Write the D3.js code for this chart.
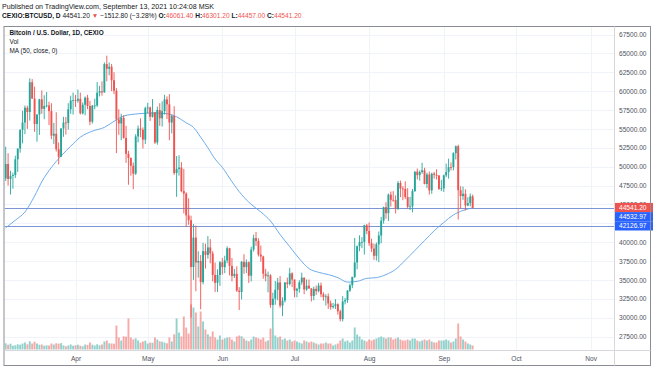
<!DOCTYPE html>
<html>
<head>
<meta charset="utf-8">
<script src="https://cdn.jsdelivr.net/npm/d3@7"></script>
<style>
  body { margin: 0; background: #fff; }
  svg { display: block; font-family: "Liberation Sans", Arial, sans-serif; }
</style>
</head>
<body>
<script>
// daily candles, CEXIO:BTCUSD, Mar 3 -> Sep 13 2021
var startDay = "2021-03-03";
var opens = [
  48440,50350,48360,48760,48880,50970,52390,54880,55850,57800,57230,61180,59000,55650,56900,58910,57650,58030,58100,57350,54100,54350,52300,51300,55050,55840,55780,57600,58750,
  58800,58730,58980,57060,58200,59130,58030,55950,58090,58100,59780,59980,59830,63580,62960,63230,61440,60050,56250,55720,56470,53800,51700,51150,50110,49070,54000,55040,54880,53580,
  57750,57830,56600,57200,53200,57500,56400,57350,58900,58250,55850,56700,49150,49700,49880,46760,46430,43540,42900,36700,40600,37300,37500,34700,38800,38300,39300,38500,35650,34600,35650,
  37330,36690,37570,39190,36850,35520,35800,33580,33400,37390,36700,37330,35550,39020,40530,40160,38340,38090,35820,35480,35600,31680,32500,33690,34660,31590,32250,34650,34450,35860,
  35040,33570,33810,34670,35300,33730,34220,33870,32870,33810,33510,34260,33090,32730,32820,31880,31390,31530,31780,30840,29800,32140,32310,33580,34290,35400,37300,39460,40000,40020,42230,
  41470,39860,39150,38190,39720,40880,42850,44630,43830,46290,45600,45570,44430,47830,47100,47040,45970,44690,44740,46760,49340,48870,49290,49510,47700,48960,46860,49070,48900,48810,47050,
  47130,48850,49280,49940,49930,51790,52700,46870,46100,46400,44850,45160,46061.4
];
var highs = [
  52640,51770,49450,49200,51450,52400,54900,57390,58100,58060,61700,61600,60600,56950,58980,60100,59450,59880,58600,58400,55800,57200,53200,55100,56600,56570,58400,59400,59800,
  59500,60200,59800,58500,59300,59500,58700,58150,59000,61200,60700,61300,63800,64700,63800,63600,62500,60400,57600,57000,56800,55400,52100,51200,50550,54300,55450,56400,55200,57950,
  58450,57950,58950,57200,57950,58400,58650,59500,59300,59600,56900,58000,51400,51500,50600,49700,46600,45800,43500,42400,42200,38800,38300,39900,39800,40800,40400,38800,37300,36400,37500,
  37900,38200,39450,39250,37900,36450,36800,34050,37500,38400,37700,37450,39400,41000,41350,40500,39550,38200,36450,36100,35750,33300,34850,35250,35500,32700,34700,35300,36600,36000,
  35050,33950,34950,35950,35300,35050,35050,33900,34100,34250,34600,34650,33350,33100,33200,32250,31950,32450,31900,31050,32850,32600,33650,34500,35400,40550,39550,40900,40650,42300,42400,
  42600,40450,39800,39950,41400,43350,44700,45300,46450,46700,46750,46200,48100,48150,47400,48050,47150,46000,47050,49350,49750,49500,50500,49850,49200,49350,49200,49300,49650,48900,48250,
  48950,50400,51050,50550,51900,52800,52900,47400,47350,47000,45950,46450,46301.2
];
var lows = [
  48100,47500,46300,47070,48500,49300,51850,53080,54300,55000,56100,59000,54600,53300,54200,57000,56280,57850,55500,53650,53000,52000,50300,51300,53950,54250,54900,57000,56900,
  57900,58450,56900,56900,56800,57600,55500,55700,57600,57900,59300,59400,59800,61300,62100,60000,59600,51800,54200,53500,53700,50500,47600,48800,47000,48900,53200,53900,52400,53000,
  57050,56050,56500,53000,52900,55400,55300,56900,56300,53500,54400,48900,46000,48800,46600,43800,42000,42300,30000,35000,33500,35300,31100,34400,36500,37800,37200,34800,33400,33400,34200,
  35700,35900,37200,35600,34800,35250,33400,31000,32400,35800,35900,34600,34800,38750,39500,38100,37400,35150,34800,33350,31300,28800,31700,32300,31300,30200,32000,33900,34250,34050,
  32700,32700,33300,34350,33100,33550,33800,32150,32300,33000,33350,32700,32250,31600,31150,31050,31200,31150,30400,29500,29500,31750,31950,33400,33900,35250,36400,38800,39200,38350,41050,
  39500,38700,37650,37550,37350,39850,42450,43100,42800,44700,45350,43800,44250,45950,45550,45700,44400,44250,43950,46650,48300,48150,49050,47650,47150,46300,46400,48400,48300,46900,46750,
  46650,48600,48400,49500,49500,50950,43000,44450,45600,44200,44750,44750,44457.0
];
var closes = [
  50350,48360,48760,48880,50970,52390,54880,55850,57800,57230,61180,59000,55650,56900,58910,57650,58030,58100,57350,54100,54350,52300,51300,55050,55840,55780,57600,58750,58800,
  58730,58980,57060,58200,59130,58030,55950,58090,58100,59780,59980,59830,63580,62960,63230,61440,60050,56250,55720,56470,53800,51700,51150,50110,49070,54000,55040,54880,53580,57750,
  57830,56600,57200,53200,57500,56400,57350,58900,58250,55850,56700,49150,49700,49880,46760,46430,43540,42900,36700,40600,37300,37500,34700,38800,38300,39300,38500,35650,34600,35650,37330,
  36690,37570,39190,36850,35520,35800,33580,33400,37390,36700,37330,35550,39020,40530,40160,38340,38090,35820,35480,35600,31680,32500,33690,34660,31590,32250,34650,34450,35860,35040,
  33570,33810,34670,35300,33730,34220,33870,32870,33810,33510,34260,33090,32730,32820,31880,31390,31530,31780,30840,29800,32140,32310,33580,34290,35400,37300,39460,40000,40020,42230,41470,
  39860,39150,38190,39720,40880,42850,44630,43830,46290,45600,45570,44430,47830,47100,47040,45970,44690,44740,46760,49340,48870,49290,49510,47700,48960,46860,49070,48900,48810,47050,47130,
  48850,49280,49940,49930,51790,52700,46870,46100,46400,44850,45160,46060,44541.2
];
var volumes = [
  310,240,290,190,210,260,240,300,350,260,410,300,390,300,240,250,190,210,200,300,250,310,290,320,210,160,200,250,190,
  210,240,190,160,250,230,350,240,200,260,210,250,400,450,310,300,290,1200,600,450,660,640,1550,600,500,560,450,340,400,440,
  300,350,340,600,500,410,390,350,310,600,400,760,1550,850,650,1650,1100,800,2250,2100,1850,1150,1900,1400,1000,760,650,900,600,500,700,
  500,560,600,610,500,400,650,700,660,550,450,410,500,650,600,560,500,600,400,450,1050,1150,700,600,650,500,550,450,500,400,
  450,400,350,300,450,400,350,400,350,300,250,300,300,350,300,300,200,250,300,450,550,400,450,350,450,1100,750,650,500,450,400,
  500,450,500,550,600,650,600,550,600,600,500,550,600,500,450,450,500,450,550,550,450,400,450,500,450,500,400,350,350,450,450,
  450,500,450,350,400,550,1300,650,500,400,300,250,200
];

// MA(50, close)
var maDates = ["2021-03-03","2021-03-07","2021-03-11","2021-03-15","2021-03-18","2021-03-22","2021-03-26","2021-03-30",
  "2021-04-03","2021-04-08","2021-04-13","2021-04-17","2021-04-21","2021-04-27","2021-05-03","2021-05-09","2021-05-13",
  "2021-05-17","2021-05-20","2021-05-23","2021-05-26","2021-05-29","2021-06-01","2021-06-05","2021-06-09","2021-06-13",
  "2021-06-17","2021-06-21","2021-06-25","2021-06-29","2021-07-03","2021-07-07","2021-07-11","2021-07-15","2021-07-19",
  "2021-07-23","2021-07-27","2021-07-31","2021-08-04","2021-08-08","2021-08-12","2021-08-16","2021-08-20","2021-08-24",
  "2021-08-28","2021-09-01","2021-09-05","2021-09-09","2021-09-13"];
var maValues = [41900,42900,44000,46100,48000,49900,51400,52700,
  53900,54700,55200,56000,56700,57000,57100,57000,56600,
  55800,55200,53900,52500,51000,49900,48000,46300,45000,
  44000,42800,41000,39400,37800,36500,36000,35700,35300,
  34700,34800,35200,35300,35700,36400,37600,38900,40200,
  41500,42600,43600,44200,44532.97];

var priceTicks = [27500,30000,32500,35000,37500,40000,45000,47500,50000,52500,55000,57500,60000,62500,65000,67500];
var gridTicks = [27500,30000,32500,35000,37500,40000,42500,45000,47500,50000,52500,55000,57500,60000,62500,65000,67500];
var monthTicks = ["2021-04-01","2021-05-01","2021-06-01","2021-07-01","2021-08-01","2021-09-01","2021-10-01","2021-11-01"];
var hLines = [44541.2, 42126.97];
var badges = [
  {label: "44541.20", color: "#ef5350"},
  {label: "44532.97", color: "#2962ff"},
  {label: "42126.97", color: "#2962ff"}
];

var W = 654, H = 366;
var padL = 4.5, padR = 614.5, padT = 26.5, paneBottom = 350.5, frameBottom = 365.5;
var upC = "#26a69a", downC = "#ef5350";
var parse = d3.utcParse("%Y-%m-%d");

var days = d3.utcDay.range(parse(startDay), d3.utcDay.offset(parse(startDay), closes.length));
var data = days.map(function(d, i) {
  return {date: d, o: opens[i], h: highs[i], l: lows[i], c: closes[i], v: volumes[i]};
});

var svg = d3.select("body").append("svg").attr("width", W).attr("height", H);

var x = d3.scaleUtc()
  .domain([parse("2021-04-01"), parse("2021-11-01")])
  .range([75.5, 590.6]);
var y = d3.scaleLinear().domain([27500, 67500]).range([336.5, 34.5]);
var yVol = d3.scaleLinear().domain([0, 2250]).range([paneBottom - 1, paneBottom - 46]);

svg.append("defs").append("clipPath").attr("id", "pane")
  .append("rect").attr("x", padL).attr("y", padT).attr("width", padR - padL).attr("height", paneBottom - padT);

// grid
var grid = svg.append("g");
grid.selectAll("line.h").data(gridTicks).enter().append("line")
  .attr("x1", padL).attr("x2", padR)
  .attr("y1", d => Math.round(y(d)) + 0.5).attr("y2", d => Math.round(y(d)) + 0.5)
  .attr("stroke", "#f0f3fa");
grid.selectAll("line.v").data(monthTicks).enter().append("line")
  .attr("y1", padT).attr("y2", paneBottom)
  .attr("x1", d => Math.round(x(parse(d))) + 0.5).attr("x2", d => Math.round(x(parse(d))) + 0.5)
  .attr("stroke", "#f0f3fa");

var pane = svg.append("g").attr("clip-path", "url(#pane)");

// volume
pane.selectAll("rect.vol").data(data).enter().append("rect")
  .attr("x", d => x(d.date) - 0.95)
  .attr("width", 1.9)
  .attr("y", d => yVol(d.v))
  .attr("height", d => yVol(0) - yVol(d.v))
  .attr("fill", d => d.c >= d.o ? upC : downC)
  .attr("opacity", 0.5);

// horizontal lines
pane.selectAll("line.hl").data(hLines).enter().append("line")
  .attr("x1", padL).attr("x2", padR)
  .attr("y1", d => Math.round(y(d)) + 0.5).attr("y2", d => Math.round(y(d)) + 0.5)
  .attr("stroke", "#7b95d6").attr("stroke-width", 1);

// MA
var maLine = d3.line()
  .x((d, i) => x(parse(maDates[i])))
  .y(d => y(d))
  .curve(d3.curveMonotoneX);
pane.append("path").datum(maValues)
  .attr("d", maLine)
  .attr("fill", "none")
  .attr("stroke", "#5ea3e6")
  .attr("stroke-width", 0.9);

// candles
var candles = pane.selectAll("g.candle").data(data).enter().append("g");
candles.append("line")
  .attr("x1", d => x(d.date)).attr("x2", d => x(d.date))
  .attr("y1", d => y(d.h)).attr("y2", d => y(d.l))
  .attr("stroke", d => d.c >= d.o ? upC : downC)
  .attr("stroke-width", 0.9);
candles.append("rect")
  .attr("x", d => x(d.date) - 0.95)
  .attr("width", 1.9)
  .attr("y", d => y(Math.max(d.o, d.c)))
  .attr("height", d => Math.max(0.8, Math.abs(y(d.o) - y(d.c))))
  .attr("fill", d => d.c >= d.o ? upC : downC);

// price axis
var yAxis = d3.axisRight(y).tickValues(priceTicks).tickSize(0).tickPadding(0).tickFormat(d3.format(".2f"));
var ya = svg.append("g").attr("transform", "translate(619,0)").call(yAxis);
ya.select(".domain").remove();
ya.selectAll("text").attr("fill", "#50535e").style("font-size", "6.6px");

// time axis
var xAxis = d3.axisBottom(x).tickValues(monthTicks.map(parse)).tickSize(0).tickPadding(0)
  .tickFormat(d3.utcFormat("%b"));
var xa = svg.append("g").attr("transform", "translate(0,356)").call(xAxis);
xa.select(".domain").remove();
xa.selectAll("text").attr("fill", "#50535e").style("font-size", "6.6px");

// badges on the price axis
var by = 207.5;
badges.forEach(function(b, i) {
  var cy = by + i * 9.2;
  svg.append("rect").attr("x", padR).attr("y", cy - 4.6).attr("width", 38.5).attr("height", 9.2).attr("fill", b.color);
  svg.append("text").attr("x", 619).attr("y", cy + 2.3).attr("fill", "#fff")
    .style("font-size", "6.6px").text(b.label);
});

// frame
svg.append("rect").attr("x", padL - 0.5).attr("y", padT).attr("width", W - 3.5 - padL + 0.5).attr("height", frameBottom - padT)
  .attr("fill", "none").attr("stroke", "#8a8d96");
svg.append("line").attr("x1", padR).attr("x2", padR).attr("y1", padT).attr("y2", frameBottom).attr("stroke", "#d6d8de");
svg.append("line").attr("x1", padL).attr("x2", W - 3.5).attr("y1", paneBottom).attr("y2", paneBottom).attr("stroke", "#d6d8de");

// header
svg.append("text").attr("x", 2).attr("y", 8.5).attr("fill", "#131722").style("font-size", "7.1px")
  .text("Published on TradingView.com, September 13, 2021 10:24:08 MSK");
var h2 = svg.append("text").attr("x", 2).attr("y", 17.5).attr("fill", "#131722").style("font-size", "6.6px");
h2.append("tspan").attr("font-weight", "bold").text("CEXIO:BTCUSD, D ");
h2.append("tspan").text("44541.20 ");
h2.append("tspan").attr("fill", downC).text("\u25BC");
h2.append("tspan").text(" \u22121512.80 (\u22123.28%) ");
[["O:", "46061.40"], ["H:", "46301.20"], ["L:", "44457.00"], ["C:", "44541.20"]].forEach(function(p, i) {
  h2.append("tspan").attr("font-weight", "bold").text((i ? " " : "") + p[0]);
  h2.append("tspan").attr("fill", downC).text(p[1]);
});

// legend
var leg = svg.append("g").attr("fill", "#131722").style("font-size", "6.4px");
leg.append("text").attr("x", 9.5).attr("y", 34.8).attr("font-weight", "bold").text("Bitcoin / U.S. Dollar, 1D, CEXIO");
leg.append("text").attr("x", 9.5).attr("y", 44).text("Vol");
leg.append("text").attr("x", 9.5).attr("y", 53).text("MA (50, close, 0)");
</script>
</body>
</html>
